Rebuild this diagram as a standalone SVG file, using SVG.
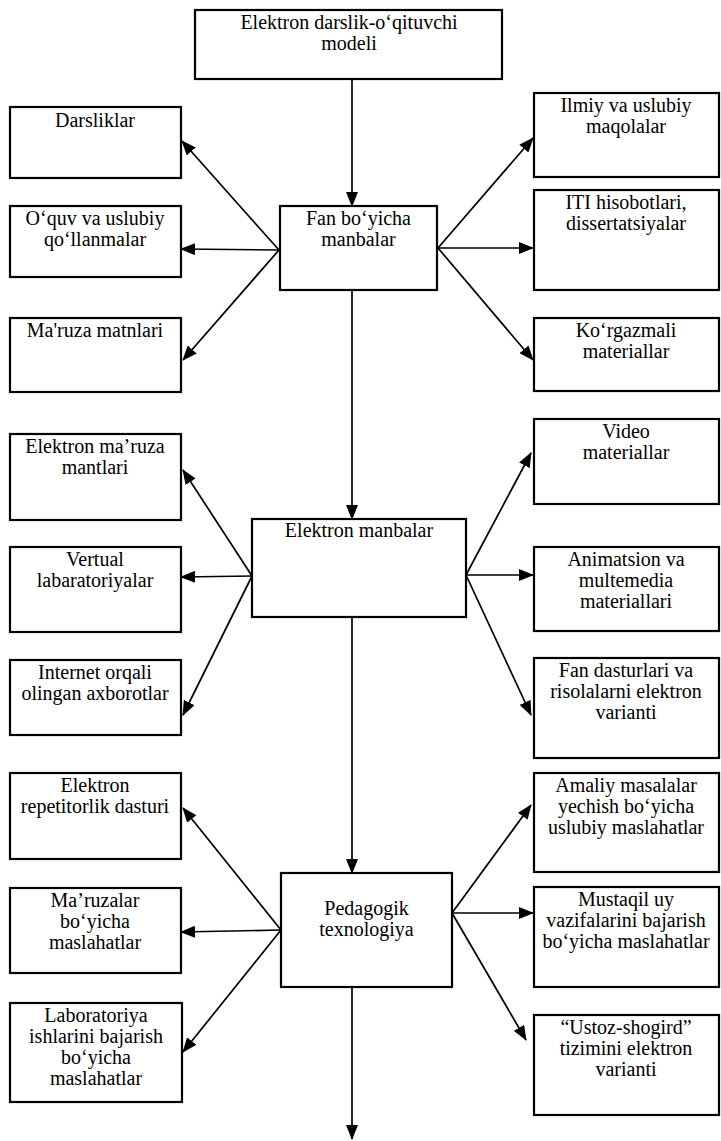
<svg xmlns="http://www.w3.org/2000/svg" width="721" height="1141" viewBox="0 0 721 1141">
<style>
.box{fill:#fff;stroke:#000;stroke-width:2.2}
.t{font-family:"Liberation Serif","Times New Roman",serif;font-size:20px;fill:#000;text-anchor:middle}
.c{stroke:#000;stroke-width:1.7;fill:none;marker-end:url(#ah)}
</style>
<defs>
<marker id="ah" markerUnits="userSpaceOnUse" markerWidth="15" markerHeight="12" refX="14" refY="6" orient="auto">
<path d="M0,0 L15,6 L0,12 Z" fill="#000"/>
</marker>
</defs>
<rect width="721" height="1141" fill="#fff"/>
<g id="connectors">
<line class="c" x1="352" y1="79" x2="352" y2="206"/>
<line class="c" x1="352" y1="290" x2="352" y2="519"/>
<line class="c" x1="352" y1="617" x2="352" y2="873"/>
<line class="c" x1="352" y1="987" x2="352" y2="1139"/>
<line class="c" x1="279" y1="250" x2="182" y2="141"/>
<line class="c" x1="279" y1="250" x2="181" y2="249"/>
<line class="c" x1="279" y1="250" x2="183" y2="360"/>
<line class="c" x1="438" y1="248" x2="533" y2="138"/>
<line class="c" x1="438" y1="248" x2="533" y2="248"/>
<line class="c" x1="438" y1="248" x2="533" y2="360"/>
<line class="c" x1="252" y1="576" x2="183" y2="470"/>
<line class="c" x1="252" y1="576" x2="181" y2="577"/>
<line class="c" x1="252" y1="576" x2="183" y2="715"/>
<line class="c" x1="466" y1="575" x2="531" y2="453"/>
<line class="c" x1="466" y1="575" x2="533" y2="575"/>
<line class="c" x1="466" y1="575" x2="531" y2="715"/>
<line class="c" x1="281" y1="930" x2="183" y2="808"/>
<line class="c" x1="281" y1="930" x2="181" y2="932"/>
<line class="c" x1="281" y1="930" x2="183" y2="1052"/>
<line class="c" x1="452" y1="913" x2="531" y2="805"/>
<line class="c" x1="452" y1="913" x2="533" y2="913"/>
<line class="c" x1="452" y1="913" x2="526" y2="1040"/>
</g>
<g id="top"><rect class="box" x="195" y="10" width="307" height="69"/><text class="t" x="349" y="29">Elektron darslik-o‘qituvchi</text><text class="t" x="349" y="50">modeli</text></g>
<g id="fan"><rect class="box" x="280" y="206" width="157" height="84"/><text class="t" x="358.5" y="225">Fan bo‘yicha</text><text class="t" x="358.5" y="246">manbalar</text></g>
<g id="elmanba"><rect class="box" x="252" y="519" width="214" height="98"/><text class="t" x="359" y="537">Elektron manbalar</text></g>
<g id="pedagog"><rect class="box" x="281" y="873" width="171" height="114"/><text class="t" x="366.5" y="915">Pedagogik</text><text class="t" x="366.5" y="936">texnologiya</text></g>
<g id="l1"><rect class="box" x="10" y="107" width="171" height="71"/><text class="t" x="95" y="127">Darsliklar</text></g>
<g id="l2"><rect class="box" x="10" y="206" width="171" height="71"/><text class="t" x="95" y="225">O‘quv va uslubiy</text><text class="t" x="95" y="246">qo‘llanmalar</text></g>
<g id="l3"><rect class="box" x="10" y="318" width="171" height="74"/><text class="t" x="95" y="337">Ma'ruza matnlari</text></g>
<g id="l4"><rect class="box" x="10" y="434" width="171" height="86"/><text class="t" x="95" y="453">Elektron ma’ruza</text><text class="t" x="95" y="474">mantlari</text></g>
<g id="l5"><rect class="box" x="10" y="547" width="171" height="85"/><text class="t" x="95" y="566">Vertual</text><text class="t" x="95" y="587">labaratoriyalar</text></g>
<g id="l6"><rect class="box" x="10" y="660" width="171" height="75"/><text class="t" x="95" y="679">Internet orqali</text><text class="t" x="95" y="700">olingan axborotlar</text></g>
<g id="l7"><rect class="box" x="10" y="773" width="171" height="86"/><text class="t" x="95" y="792">Elektron</text><text class="t" x="95" y="813">repetitorlik dasturi</text></g>
<g id="l8"><rect class="box" x="10" y="888" width="171" height="85"/><text class="t" x="95" y="907">Ma’ruzalar</text><text class="t" x="95" y="928">bo‘yicha</text><text class="t" x="95" y="949">maslahatlar</text></g>
<g id="l9"><rect class="box" x="10" y="1003" width="172" height="99"/><text class="t" x="96" y="1022">Laboratoriya</text><text class="t" x="96" y="1043">ishlarini bajarish</text><text class="t" x="96" y="1064">bo‘yicha</text><text class="t" x="96" y="1085">maslahatlar</text></g>
<g id="r1"><rect class="box" x="534" y="93" width="185" height="84"/><text class="t" x="626" y="112">Ilmiy va uslubiy</text><text class="t" x="626" y="133">maqolalar</text></g>
<g id="r2"><rect class="box" x="534" y="190" width="185" height="100"/><text class="t" x="626" y="209">ITI hisobotlari,</text><text class="t" x="626" y="230">dissertatsiyalar</text></g>
<g id="r3"><rect class="box" x="534" y="318" width="185" height="73"/><text class="t" x="626" y="337">Ko‘rgazmali</text><text class="t" x="626" y="358">materiallar</text></g>
<g id="r4"><rect class="box" x="534" y="419" width="185" height="85"/><text class="t" x="626" y="438">Video</text><text class="t" x="626" y="459">materiallar</text></g>
<g id="r5"><rect class="box" x="534" y="547" width="185" height="84"/><text class="t" x="626" y="566">Animatsion va</text><text class="t" x="626" y="587">multemedia</text><text class="t" x="626" y="608">materiallari</text></g>
<g id="r6"><rect class="box" x="534" y="658" width="185" height="100"/><text class="t" x="626" y="677">Fan dasturlari va</text><text class="t" x="626" y="698">risolalarni  elektron</text><text class="t" x="626" y="719">varianti</text></g>
<g id="r7"><rect class="box" x="534" y="773" width="185" height="99"/><text class="t" x="626" y="792">Amaliy masalalar</text><text class="t" x="626" y="813">yechish bo‘yicha</text><text class="t" x="626" y="834">uslubiy maslahatlar</text></g>
<g id="r8"><rect class="box" x="534" y="887" width="185" height="100"/><text class="t" x="626" y="906">Mustaqil uy</text><text class="t" x="626" y="927">vazifalarini bajarish</text><text class="t" x="626" y="948">bo‘yicha maslahatlar</text></g>
<g id="r9"><rect class="box" x="534" y="1015" width="185" height="100"/><text class="t" x="626" y="1034">“Ustoz-shogird”</text><text class="t" x="626" y="1055">tizimini elektron</text><text class="t" x="626" y="1076">varianti</text></g>
</svg>
